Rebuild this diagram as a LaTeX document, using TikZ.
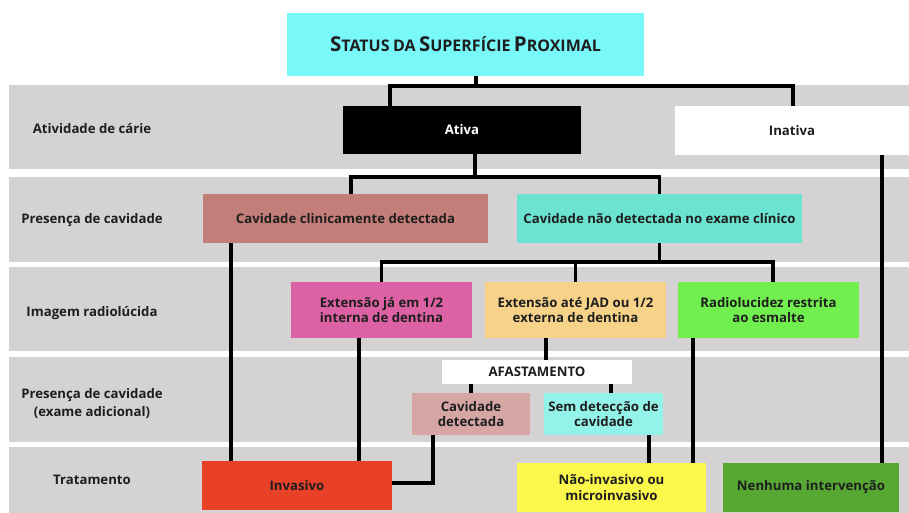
\documentclass[tikz,border=0pt]{standalone}
\usepackage{fontspec}
\setmainfont{Open Sans}
\usetikzlibrary{calc}

\definecolor{band}{HTML}{D4D2D3}
\definecolor{ink}{HTML}{1E1E1E}
\definecolor{cTitle}{HTML}{79F8FA}
\definecolor{cClin}{HTML}{C47E7A}
\definecolor{cNaoDet}{HTML}{6CE2D0}
\definecolor{cInterna}{HTML}{DD62A5}
\definecolor{cExterna}{HTML}{F7D38A}
\definecolor{cEsmalte}{HTML}{71EF4E}
\definecolor{cCavDet}{HTML}{D5A6A4}
\definecolor{cSemDet}{HTML}{93F3E8}
\definecolor{cInvasivo}{HTML}{E84128}
\definecolor{cNaoInv}{HTML}{FBF84B}
\definecolor{cNenhuma}{HTML}{57A733}

% faux small capitals for the heading
\newcommand{\fsc}[2]{{\fontsize{20.5}{21}\selectfont #1}{\fontsize{16}{17}\selectfont #2}}

\tikzset{
  box/.style={rectangle, inner sep=0pt, outer sep=0pt, align=center,
    text=ink, font=\fontsize{13.2}{15.5}\selectfont\bfseries},
  rowlabel/.style={inner sep=0pt, align=center, text=ink,
    font=\fontsize{13.2}{18}\selectfont\bfseries},
  conn/.style={line width=3.6pt, draw=black, line join=miter},
}

\begin{document}
\begin{tikzpicture}[x=1pt,y=-1pt]
\useasboundingbox (0,0) rectangle (909,513);
\fill[white] (0,0) rectangle (909,513);

% horizontal level bands
\fill[band] (9,85)  rectangle (909,169);
\fill[band] (9,177) rectangle (909,262);
\fill[band] (9,267) rectangle (909,351);
\fill[band] (9,357) rectangle (909,442);
\fill[band] (9,447) rectangle (909,513);

% level labels
\node[rowlabel] (lab1) at (92,129) {Atividade de cárie};
\node[rowlabel] (lab2) at (92,220) {Presença de cavidade};
\node[rowlabel] (lab3) at (92,313) {Imagem radiolúcida};
\node[rowlabel] (lab4) at (92,404) {Presença de cavidade\\(exame adicional)};
\node[rowlabel] (lab5) at (92,480) {Tratamento};

% decision boxes
\node[box, fill=cTitle, minimum width=357pt, minimum height=63pt] (title) at (465.5,44.5)
  {\fsc{S}{TATUS} \fsc{}{DA} \fsc{S}{UPERFÍCIE} \fsc{P}{ROXIMAL}};
\node[box, fill=black, text=white, minimum width=238pt, minimum height=48pt] (ativa) at (462,130) {Ativa};
\node[box, fill=white, minimum width=234pt, minimum height=49pt] (inativa) at (792,130.5) {Inativa};

\node[box, fill=cClin, minimum width=285pt, minimum height=49pt] (clin) at (345.5,218.5) {Cavidade clinicamente detectada};
\node[box, fill=cNaoDet, minimum width=285pt, minimum height=49pt] (naodet) at (659.5,218.5) {Cavidade não detectada no exame clínico};

\node[box, fill=cInterna, minimum width=181pt, minimum height=56pt] (interna) at (381.5,310) {Extensão já em 1/2\\interna de dentina};
\node[box, fill=cExterna, minimum width=181pt, minimum height=56pt] (externa) at (575.5,310) {Extensão até JAD ou 1/2\\externa de dentina};
\node[box, fill=cEsmalte, minimum width=181pt, minimum height=56pt] (esmalte) at (768.5,310) {Radiolucidez restrita\\ao esmalte};

\node[box, fill=white, minimum width=190pt, minimum height=24pt] (afast) at (537,372) {AFASTAMENTO};
\node[box, fill=cCavDet, minimum width=118pt, minimum height=42pt] (cavdet) at (471,414) {Cavidade\\detectada};
\node[box, fill=cSemDet, minimum width=119pt, minimum height=42pt] (semdet) at (603.5,414) {Sem detecção de\\cavidade};

\node[box, fill=cInvasivo, minimum width=190pt, minimum height=49pt] (invasivo) at (297,485.5) {Invasivo};
\node[box, fill=cNaoInv, minimum width=189pt, minimum height=49pt] (naoinv) at (611.5,487.5) {Não-invasivo ou\\microinvasivo};
\node[box, fill=cNenhuma, minimum width=176pt, minimum height=49pt] (nenhuma) at (811,487.5) {Nenhuma intervenção};

% bus lines
\coordinate (bus1) at (0,86);
\coordinate (bus2) at (0,177);
\coordinate (bus3) at (0,262);
\coordinate (bus4) at (0,483);

% connectors
\draw[conn] ([xshift=10.5pt]title.south) -- ([xshift=10.5pt]title.south |- bus1);
\draw[conn] ([xshift=-72pt]ativa.north) -- ([xshift=-72pt]ativa.north |- bus1) -| ([xshift=1pt]inativa.north);

\draw[conn] ([xshift=13pt]ativa.south) -- ([xshift=13pt]ativa.south |- bus2);
\draw[conn] ([xshift=5.5pt]clin.north) -- ([xshift=5.5pt]clin.north |- bus2) -| (naodet.north);

\draw[conn] ([xshift=-114.5pt]clin.south) -- ([xshift=-114.5pt]clin.south |- invasivo.north);

\draw[conn] (naodet.south) -- (naodet.south |- bus3);
\draw[conn] (interna.north) -- (interna.north |- bus3) -| ([xshift=4.5pt]esmalte.north);
\draw[conn] (externa.north) -- (externa.north |- bus3);

\draw[conn] ([xshift=-22.5pt]interna.south) -- ([xshift=-22.5pt]interna.south |- invasivo.north);
\draw[conn] ([xshift=-29.5pt]externa.south) -- ([xshift=-29.5pt]externa.south |- afast.north);
\draw[conn] (cavdet.north |- afast.south) -- (cavdet.north);
\draw[conn] ([xshift=7.5pt]semdet.north |- afast.south) -- ([xshift=7.5pt]semdet.north);

\draw[conn] ([xshift=-38pt]cavdet.south) -- ([xshift=-38pt]cavdet.south |- bus4) -- (invasivo.east |- bus4);
\draw[conn] ([xshift=45.5pt]semdet.south) -- ([xshift=45.5pt]semdet.south |- naoinv.north);
\draw[conn] ([xshift=-75.5pt]esmalte.south) -- ([xshift=-75.5pt]esmalte.south |- naoinv.north);
\draw[conn] ([xshift=90pt]inativa.south) -- ([xshift=90pt]inativa.south |- nenhuma.north);
\end{tikzpicture}
\end{document}
